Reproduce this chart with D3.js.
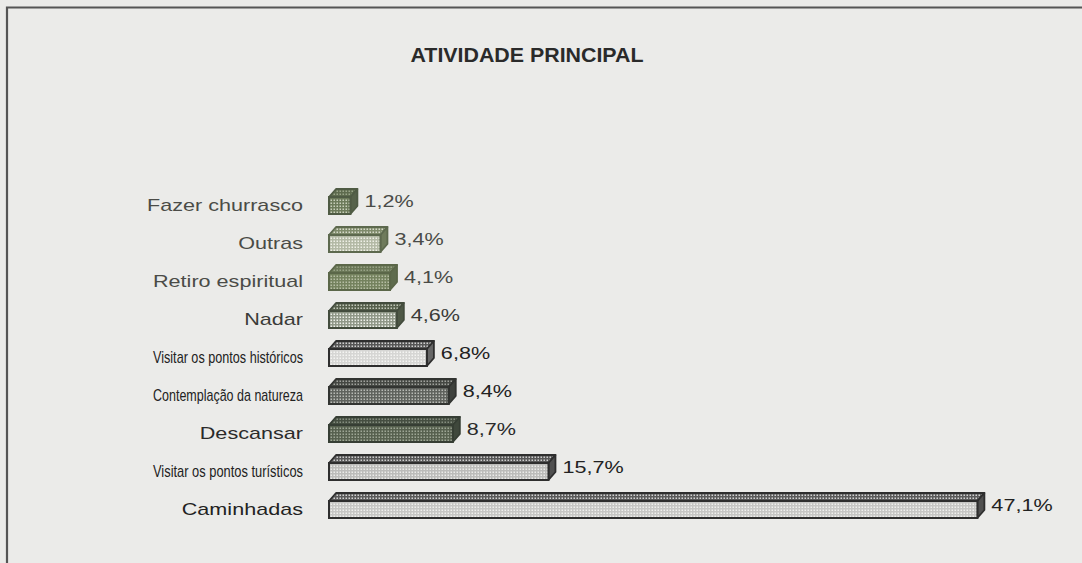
<!DOCTYPE html>
<html><head><meta charset="utf-8">
<script src="https://cdn.jsdelivr.net/npm/d3@7"></script>
<style>
html,body{margin:0;padding:0;background:#ebebe9;}
svg{display:block;}
</style></head>
<body>
<svg id="chart" width="1082" height="563"></svg>
<script>
const title = "ATIVIDADE PRINCIPAL";
const categories = ["Fazer churrasco","Outras","Retiro espiritual","Nadar","Visitar os pontos históricos","Contemplação da natureza","Descansar","Visitar os pontos turísticos","Caminhadas"];
const values = [1.2,3.4,4.1,4.6,6.8,8.4,8.7,15.7,47.1];
const valueLabels = ["1,2%","3,4%","4,1%","4,6%","6,8%","8,4%","8,7%","15,7%","47,1%"];

// visual styles for each bar (front base/dot, top base/dot, side, outline, text colour)
const barStyles = [
  {front:"#6c7a5a",fdot:"#c9cfbb",top:"#5e6b4e",tdot:"#9aa58a",side:"#56624a",stroke:"#4f5b44",txt:"#4a4b47"},
  {front:"#b3b9a5",fdot:"#eeefe6",top:"#7f8b6b",tdot:"#d6dacb",side:"#6f7b5c",stroke:"#5d694e",txt:"#4a4b47"},
  {front:"#74825e",fdot:"#b6bea4",top:"#6a7757",tdot:"#98a386",side:"#5f6c4e",stroke:"#5b6749",txt:"#4a4b47"},
  {front:"#8f9787",fdot:"#eef0ea",top:"#56604c",tdot:"#c2c7b9",side:"#4e5846",stroke:"#434c3d",txt:"#3a3b38"},
  {front:"#d6d6d4",fdot:"#f4f4f2",top:"#555555",tdot:"#d0d0d0",side:"#666666",stroke:"#2e2e2e",txt:"#222"},
  {front:"#5f625d",fdot:"#b8bab5",top:"#454843",tdot:"#a0a29d",side:"#3f423d",stroke:"#323431",txt:"#222"},
  {front:"#57614f",fdot:"#9ea796",top:"#454e41",tdot:"#848d7f",side:"#3f483c",stroke:"#363e34",txt:"#2a2a2a"},
  {front:"#bcbcba",fdot:"#ebebe9",top:"#575757",tdot:"#cdcdcd",side:"#505050",stroke:"#2e2e2e",txt:"#222"},
  {front:"#c6c6c4",fdot:"#efefed",top:"#5a5a5a",tdot:"#d3d3d3",side:"#505050",stroke:"#2e2e2e",txt:"#222"}
];

const svg = d3.select("#chart");
const W = 1082, H = 563;
const FONT = "'Liberation Sans',Arial,Helvetica,sans-serif";
const fontSize = 17, stretch = 1.27, maxLabelW = 150, squeezeAbove = 165;

svg.append("rect").attr("x",0).attr("y",0).attr("width",W).attr("height",H).attr("fill","#ebebe9");
svg.append("path").attr("d",`M7,${H+5} L7,7.5 L${W+5},7.5`).attr("fill","none").attr("stroke","#555").attr("stroke-width",2.2);

const defs = svg.append("defs");
function dotPattern(id, base, dot){
  const p = defs.append("pattern").attr("id",id).attr("patternUnits","userSpaceOnUse").attr("width",3).attr("height",3);
  p.append("rect").attr("width",3).attr("height",3).attr("fill",base);
  p.append("rect").attr("x",0.5).attr("y",0.5).attr("width",1.5).attr("height",1.5).attr("fill",dot);
}
barStyles.forEach((s,i)=>{
  dotPattern("f"+i, s.front, s.fdot);
  dotPattern("t"+i, s.top, s.tdot);
});

function fitText(node){
  const w = node.getComputedTextLength();
  let target = w * stretch;
  if (target > squeezeAbove) target = maxLabelW;
  d3.select(node).attr("textLength",target).attr("lengthAdjust","spacingAndGlyphs");
}

svg.append("text").attr("x",527).attr("y",62).attr("text-anchor","middle")
  .attr("font-family",FONT).attr("font-weight","bold").attr("font-size",20).attr("fill","#2a2a2a").text(title)
  .each(function(){ d3.select(this).attr("textLength",233).attr("lengthAdjust","spacingAndGlyphs"); });

const y = d3.scaleBand().domain(categories).range([186,528]);
const x = d3.scaleLinear().domain([0,50]).range([334,334+13.66*50]);
const barLeft = x(0) - 5;
const depthX = 7, depthY = 8, frontH = 17;

const rows = svg.append("g").selectAll("g").data(categories).join("g")
  .attr("transform", d=>`translate(0,${y(d)+y.bandwidth()/2})`);

rows.append("text").attr("x",303).attr("y",0).attr("dy","0.36em").attr("text-anchor","end")
  .attr("font-family",FONT).attr("font-size",fontSize).attr("fill",(d,i)=>barStyles[i].txt)
  .text(d=>d)
  .each(function(){ fitText(this); });

rows.each(function(d,i){
  const g = d3.select(this);
  const s = barStyles[i];
  const x1 = x(values[i]);
  const top = -8, bot = top+frontH;
  g.append("path").attr("d",`M${barLeft},${top} L${barLeft+depthX},${top-depthY} L${x1+depthX},${top-depthY} L${x1},${top} Z`)
    .attr("fill",`url(#t${i})`).attr("stroke",s.stroke).attr("stroke-width",1.8).attr("stroke-linejoin","round");
  g.append("path").attr("d",`M${x1},${top} L${x1+depthX},${top-depthY} L${x1+depthX},${bot-depthY} L${x1},${bot} Z`)
    .attr("fill",s.side).attr("stroke",s.stroke).attr("stroke-width",1.8).attr("stroke-linejoin","round");
  g.append("rect").attr("x",barLeft).attr("y",top).attr("width",x1-barLeft).attr("height",frontH)
    .attr("fill",`url(#f${i})`).attr("stroke",s.stroke).attr("stroke-width",2);
  g.append("text").attr("x",x1+depthX+7).attr("y",-4).attr("dy","0.36em")
    .attr("font-family",FONT).attr("font-size",fontSize).attr("fill",s.txt)
    .text(valueLabels[i])
    .each(function(){ fitText(this); });
});
</script>
</body></html>
